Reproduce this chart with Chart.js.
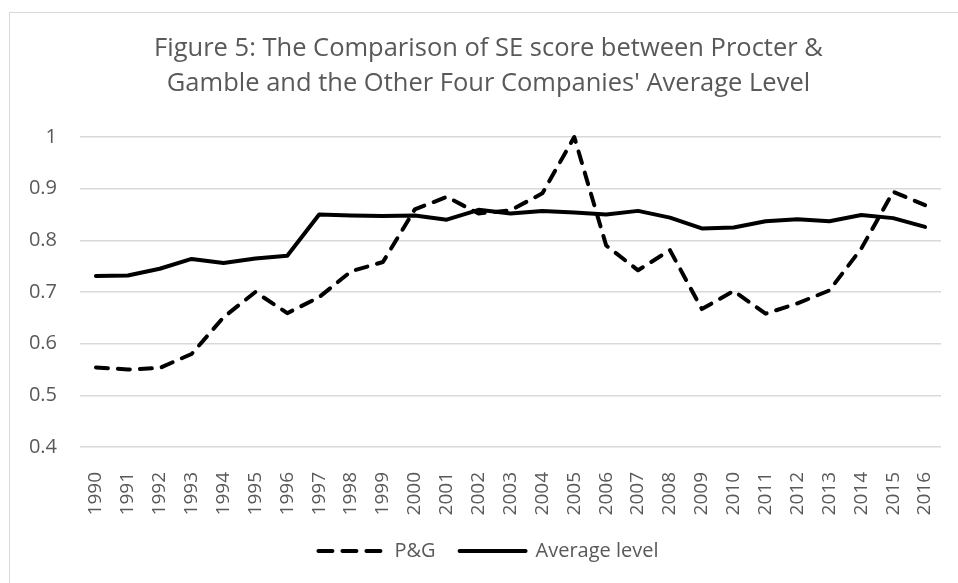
<!DOCTYPE html>
<html>
<head>
<meta charset="utf-8">
<title>Figure 5</title>
<script src="https://cdn.jsdelivr.net/npm/chart.js@4.4.1/dist/chart.umd.min.js"></script>
<style>
  html, body { margin: 0; padding: 0; background: #fff; overflow: hidden; }
  #wrap { position: relative; width: 958px; height: 583px; overflow: hidden; }
  #frame { position: absolute; left: 9px; top: 12px; width: 1000px; height: 1000px;
           border-left: 1.5px solid #d9d9d9; border-top: 1.5px solid #d9d9d9; }
  #chart { position: absolute; left: 0; top: 0; }
</style>
</head>
<body>
<div id="wrap">
  <div id="frame"></div>
  <canvas id="chart" width="976" height="583"></canvas>
</div>
<script>
// Figure 5: SE score, P&G vs. average of the other four companies
const years = ['1990','1991','1992','1993','1994','1995','1996','1997','1998','1999',
  '2000','2001','2002','2003','2004','2005','2006','2007','2008','2009',
  '2010','2011','2012','2013','2014','2015','2016'];

const pgScores = [0.554, 0.550, 0.553, 0.580, 0.651, 0.700, 0.659, 0.690, 0.740, 0.758,
  0.860, 0.884, 0.852, 0.858, 0.891, 1.000, 0.790, 0.742, 0.781, 0.667,
  0.702, 0.658, 0.678, 0.703, 0.784, 0.894, 0.868];

const avgScores = [0.731, 0.732, 0.745, 0.764, 0.756, 0.765, 0.770, 0.850, 0.848, 0.847,
  0.848, 0.840, 0.859, 0.852, 0.857, 0.854, 0.850, 0.857, 0.844, 0.823,
  0.825, 0.837, 0.841, 0.837, 0.849, 0.843, 0.826];

const yTicks = [0.4, 0.5, 0.6, 0.7, 0.8, 0.9, 1];

const titleLines = ['Figure 5: The Comparison of SE score between Procter &',
  "Gamble and the Other Four Companies' Average Level"];

const FONT = "'Open Sans', 'DejaVu Sans', sans-serif";
const GREY = '#595959';

const ctx = document.getElementById('chart').getContext('2d');

new Chart(ctx, {
  type: 'line',
  data: {
    labels: years,
    datasets: [
      {
        label: 'P&G',
        data: pgScores,
        borderColor: '#000',
        backgroundColor: '#000',
        borderWidth: 4,
        borderDash: [12, 10],
        borderCapStyle: 'round',
        borderJoinStyle: 'round',
        pointRadius: 0,
        tension: 0,
        clip: false
      },
      {
        label: 'Average level',
        data: avgScores,
        borderColor: '#000',
        backgroundColor: '#000',
        borderWidth: 4,
        borderCapStyle: 'round',
        borderJoinStyle: 'round',
        pointRadius: 0,
        tension: 0,
        clip: false
      }
    ]
  },
  options: {
    responsive: false,
    animation: false,
    devicePixelRatio: 1,
    layout: { padding: { left: 10, right: 9, top: 0, bottom: 12 } },
    plugins: {
      title: {
        display: true,
        text: titleLines,
        color: GREY,
        font: { family: FONT, size: 25.5, weight: 'normal', lineHeight: 35 / 25.5 },
        padding: { top: 31, bottom: 36 }
      },
      legend: {
        position: 'bottom',
        labels: {
          color: GREY,
          font: { family: FONT, size: 20 },
          usePointStyle: true,
          pointStyle: 'line',
          pointStyleWidth: 66,
          padding: 24,
          // legend samples take the dash pattern of their line
          generateLabels: function(chart){
            const items = Chart.defaults.plugins.legend.labels.generateLabels(chart);
            items.forEach(it => {
              const ds = chart.data.datasets[it.datasetIndex];
              it.lineDash = ds.borderDash ? [14, 10] : [];
              it.lineCap = 'round';
              it.lineWidth = ds.borderWidth;
              it.strokeStyle = ds.borderColor;
            });
            return items;
          }
        }
      },
      tooltip: { enabled: false }
    },
    scales: {
      x: {
        offset: true,
        grid: { display: false },
        border: { display: false },
        ticks: {
          color: GREY,
          font: { family: FONT, size: 19 },
          minRotation: 90,
          maxRotation: 90,
          autoSkip: false,
          padding: 17
        },
        afterFit: function(scale){ scale.height = 70; }
      },
      y: {
        min: 0.4,
        max: 1,
        afterBuildTicks: function(scale){ scale.ticks = yTicks.map(v => ({value: v})); },
        grid: { color: '#d9d9d9', lineWidth: 1.5, drawTicks: false },
        border: { display: false },
        ticks: {
          color: GREY,
          font: { family: FONT, size: 20 },
          padding: 23,
          callback: function(v){ return String(+Number(v).toFixed(1)); }
        },
        afterFit: function(scale){ scale.width = 70; }
      },
      // empty right-hand spacer so the title and legend centre like the original
      spacer: {
        type: 'linear',
        position: 'right',
        grid: { display: false },
        border: { display: false },
        ticks: { display: false },
        afterFit: function(scale){ scale.width = 26; }
      }
    }
  }
});
</script>
</body>
</html>
